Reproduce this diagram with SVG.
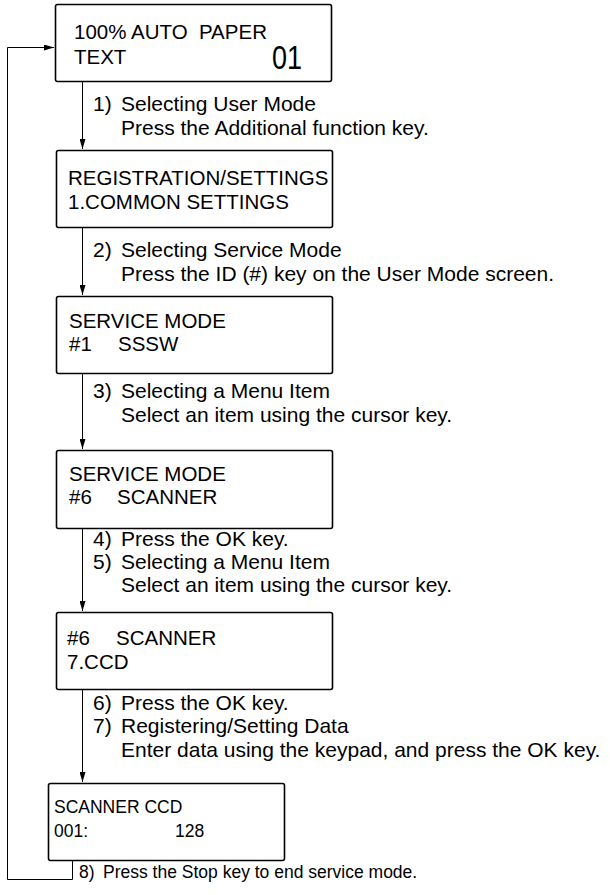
<svg xmlns="http://www.w3.org/2000/svg" width="610" height="895" viewBox="0 0 610 895">
<defs>
<style>
.box{fill:#fff;stroke:#000;stroke-width:1.6}
.t{font-family:"Liberation Sans",Arial,sans-serif;font-size:21px;fill:#000}
.b{font-family:"Liberation Sans",Arial,sans-serif;font-size:20.5px;fill:#000}
.s{font-family:"Liberation Sans",Arial,sans-serif;font-size:17.5px;fill:#000}
.big{font-family:"Liberation Sans",Arial,sans-serif;font-size:33px;fill:#000}
.c{fill:none;stroke:#000;stroke-width:1}
</style>
<marker id="ah" viewBox="0 0 10 6" refX="10" refY="3" markerWidth="10" markerHeight="6" markerUnits="userSpaceOnUse" orient="auto">
<path d="M0,0 L10,3 L0,6 Z" fill="#000"/>
</marker>
</defs>
<rect width="610" height="895" fill="#fff"/>
<g id="connectors">
<line class="c" x1="82.5" y1="82" x2="82.5" y2="149" marker-end="url(#ah)"/>
<line class="c" x1="82.5" y1="227" x2="82.5" y2="295" marker-end="url(#ah)"/>
<line class="c" x1="82.5" y1="373" x2="82.5" y2="449" marker-end="url(#ah)"/>
<line class="c" x1="82.5" y1="528" x2="82.5" y2="611" marker-end="url(#ah)"/>
<line class="c" x1="82.5" y1="689" x2="82.5" y2="782" marker-end="url(#ah)"/>
<polyline class="c" points="72.5,860 72.5,879.5 7.5,879.5 7.5,47.5 54,47.5" marker-end="url(#ah)"/>
</g>
<g id="node1">
<rect class="box" x="55.5" y="4.5" width="276" height="77" rx="2"/>
<text class="b" x="74" y="39" xml:space="preserve">100% AUTO  PAPER</text>
<text class="b" x="74" y="64">TEXT</text>
<text class="big" x="272" y="69" textLength="30" lengthAdjust="spacingAndGlyphs">01</text>
</g>
<g id="step1">
<text class="t" x="93" y="111">1)</text>
<text class="t" x="121" y="111">Selecting User Mode</text>
<text class="t" x="121" y="135">Press the Additional function key.</text>
</g>
<g id="node2">
<rect class="box" x="56.5" y="150.5" width="276" height="77" rx="2"/>
<text class="b" x="68" y="185">REGISTRATION/SETTINGS</text>
<text class="b" x="68" y="209">1.COMMON SETTINGS</text>
</g>
<g id="step2">
<text class="t" x="93" y="257">2)</text>
<text class="t" x="121" y="257">Selecting Service Mode</text>
<text class="t" x="121" y="281">Press the ID (#) key on the User Mode screen.</text>
</g>
<g id="node3">
<rect class="box" x="56.5" y="296.5" width="276" height="77" rx="2"/>
<text class="b" x="69" y="328">SERVICE MODE</text>
<text class="b" x="69" y="351">#1</text>
<text class="b" x="118" y="351">SSSW</text>
</g>
<g id="step3">
<text class="t" x="93" y="398">3)</text>
<text class="t" x="121" y="398">Selecting a Menu Item</text>
<text class="t" x="121" y="422">Select an item using the cursor key.</text>
</g>
<g id="node4">
<rect class="box" x="56.5" y="450.5" width="276" height="78" rx="2"/>
<text class="b" x="69" y="481">SERVICE MODE</text>
<text class="b" x="69" y="504">#6</text>
<text class="b" x="117" y="504">SCANNER</text>
</g>
<g id="step4">
<text class="t" x="93" y="546">4)</text>
<text class="t" x="121" y="546">Press the OK key.</text>
<text class="t" x="93" y="569">5)</text>
<text class="t" x="121" y="569">Selecting a Menu Item</text>
<text class="t" x="121" y="592">Select an item using the cursor key.</text>
</g>
<g id="node5">
<rect class="box" x="56.5" y="612.5" width="276" height="77" rx="2"/>
<text class="b" x="67" y="645">#6</text>
<text class="b" x="116" y="645">SCANNER</text>
<text class="b" x="67" y="669">7.CCD</text>
</g>
<g id="step6">
<text class="t" x="93" y="710">6)</text>
<text class="t" x="121" y="710">Press the OK key.</text>
<text class="t" x="93" y="733">7)</text>
<text class="t" x="121" y="733">Registering/Setting Data</text>
<text class="t" x="121" y="757">Enter data using the keypad, and press the OK key.</text>
</g>
<g id="node6">
<rect class="box" x="48.5" y="783.5" width="236" height="77" rx="2"/>
<text class="s" x="54" y="813">SCANNER CCD</text>
<text class="s" x="54" y="837">001:</text>
<text class="s" x="175" y="837">128</text>
</g>
<g id="step8">
<text class="s" x="79" y="878">8)</text>
<text class="s" x="103" y="878">Press the Stop key to end service mode.</text>
</g>
</svg>
